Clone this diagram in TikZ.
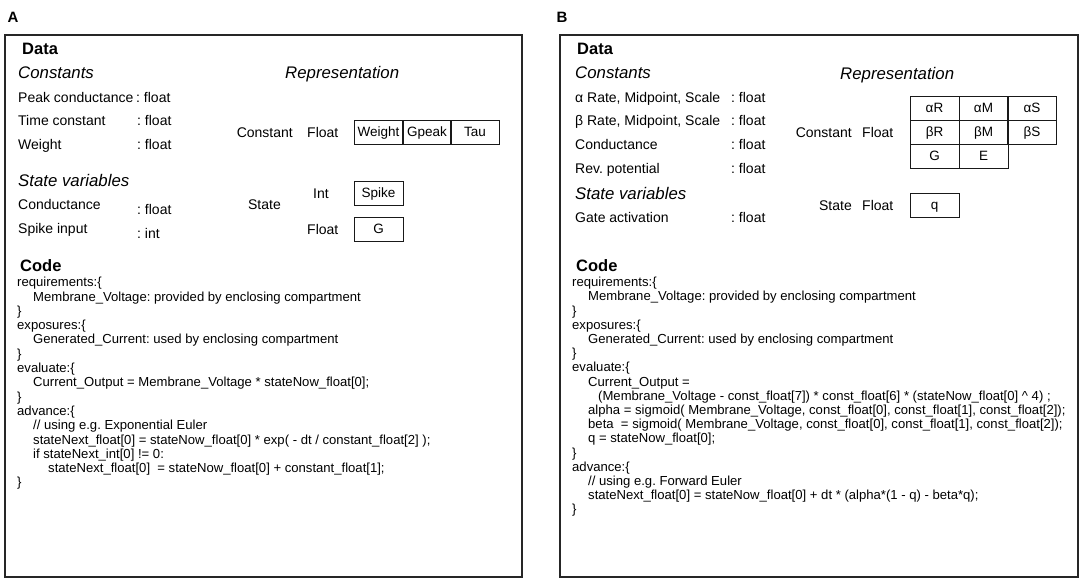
\documentclass[tikz,border=0pt]{standalone}
\usepackage{fontspec}
\setmainfont{Liberation Sans}
\frenchspacing
\begin{document}
\begin{tikzpicture}[x=1pt,y=-1pt,
  panel/.style={draw=black!85,line width=1.4pt},
  lab/.style={font=\fontsize{15}{17}\selectfont\bfseries,inner sep=0pt},
  head/.style={font=\fontsize{16.5}{18}\selectfont\bfseries,inner sep=0pt,anchor=west,text height=12pt,text depth=0pt},
  ital/.style={font=\fontsize{16.8}{18}\selectfont\itshape,inner sep=0pt,anchor=west,text height=12pt,text depth=0pt},
  txt/.style={font=\fontsize{14}{16}\selectfont\frenchspacing,inner sep=0pt,anchor=west,text height=10pt,text depth=0pt},
  code/.style={font=\fontsize{13.1}{15}\selectfont\frenchspacing,inner sep=0pt,anchor=west,text height=9.4pt,text depth=0pt},
  cell/.style={draw=black!90,line width=1pt,inner sep=0pt,minimum width=49pt,minimum height=24pt,text height=9.7pt,text depth=0pt,font=\fontsize{13.5}{15}\selectfont}
]
\useasboundingbox (0,0) rectangle (1084,584);

% ================= Panel A =================
\node[lab] (labA) at (13,17) {A};
\draw[panel] (5,35) rectangle (522,577);

\node[head] (dataA) at (22,48) {Data};
\node[ital] (constA) at (18,72) {Constants};
\node[txt] (pk) at (18,97) {Peak conductance};
\node[txt] (pkf) at (136,97) {: float};
\node[txt] (tc) at (18,120) {Time constant};
\node[txt] (tcf) at (137,120) {: float};
\node[txt] (wt) at (18,144) {Weight};
\node[txt] (wtf) at (137,144) {: float};
\node[ital] (svA) at (18,180) {State variables};
\node[txt] (cd) at (18,204) {Conductance};
\node[txt] (cdf) at (137,209) {: float};
\node[txt] (si) at (18,228) {Spike input};
\node[txt] (sif) at (137,233) {: int};

\node[ital] (repA) at (285,72) {Representation};
\node[txt,anchor=east] (conA) at (293,132) {Constant};
\node[txt] (flA1) at (307,132) {Float};
\node[txt,anchor=east] (stA) at (281,204) {State};
\node[txt] (intA) at (313,193) {Int};
\node[txt] (flA2) at (307,229) {Float};

\node[cell] (cW) at (378.5,132) {Weight};
\node[cell] (cGp) at (427,132) {Gpeak};
\node[cell] (cT) at (475,132) {Tau};
\node[cell] (cS) at (378.5,193) {Spike};
\node[cell] (cG) at (378.5,229) {G};

\node[head] (codeA) at (20,265) {Code};
\node[code] (a0) at (17,282) {requirements:\{};
\node[code] (a1) at (33,296.3) {Membrane\_Voltage: provided by enclosing compartment};
\node[code] (a2) at (17,310.6) {\}};
\node[code] (a3) at (17,324.9) {exposures:\{};
\node[code] (a4) at (33,339.2) {Generated\_Current: used by enclosing compartment};
\node[code] (a5) at (17,353.5) {\}};
\node[code] (a6) at (17,367.8) {evaluate:\{};
\node[code] (a7) at (33,382.1) {Current\_Output = Membrane\_Voltage * stateNow\_float[0];};
\node[code] (a8) at (17,396.4) {\}};
\node[code] (a9) at (17,410.7) {advance:\{};
\node[code] (a10) at (33,425) {// using e.g. Exponential Euler};
\node[code] (a11) at (33,439.3) {stateNext\_float[0] = stateNow\_float[0] * exp( - dt / constant\_float[2] );};
\node[code] (a12) at (33,453.6) {if stateNext\_int[0] != 0:};
\node[code] (a13) at (48,467.9) {stateNext\_float[0]\ \ = stateNow\_float[0] + constant\_float[1];};
\node[code] (a14) at (17,482.2) {\}};

% ================= Panel B =================
\node[lab] (labB) at (562,17) {B};
\draw[panel] (560,35) rectangle (1078,577);

\node[head] (dataB) at (577,48) {Data};
\node[ital] (constB) at (575,72) {Constants};
\node[txt] (ar) at (575,97) {α Rate, Midpoint, Scale};
\node[txt] (arf) at (731,97) {: float};
\node[txt] (br) at (575,120) {β Rate, Midpoint, Scale};
\node[txt] (brf) at (731,120) {: float};
\node[txt] (cdB) at (575,144) {Conductance};
\node[txt] (cdBf) at (731,144) {: float};
\node[txt] (rp) at (575,168) {Rev. potential};
\node[txt] (rpf) at (731,168) {: float};
\node[ital] (svB) at (575,193) {State variables};
\node[txt] (ga) at (575,217) {Gate activation};
\node[txt] (gaf) at (731,217) {: float};

\node[ital] (repB) at (840,73) {Representation};
\node[txt,anchor=east] (conB) at (852,132) {Constant};
\node[txt] (flB1) at (862,132) {Float};
\node[txt,anchor=east] (stB) at (852,205) {State};
\node[txt] (flB2) at (862,205) {Float};

\node[cell] (aR) at (934.5,108) {αR};
\node[cell] (aM) at (983.5,108) {αM};
\node[cell] (aS) at (1032,108) {αS};
\node[cell] (bR) at (934.5,132) {βR};
\node[cell] (bM) at (983.5,132) {βM};
\node[cell] (bS) at (1032,132) {βS};
\node[cell] (gG) at (934.5,156) {G};
\node[cell] (eE) at (983.5,156) {E};
\node[cell] (qq) at (934.5,205) {q};

\node[head] (codeB) at (576,265) {Code};
\node[code] (b0) at (572,282) {requirements:\{};
\node[code] (b1) at (588,296.2) {Membrane\_Voltage: provided by enclosing compartment};
\node[code] (b2) at (572,310.4) {\}};
\node[code] (b3) at (572,324.6) {exposures:\{};
\node[code] (b4) at (588,338.8) {Generated\_Current: used by enclosing compartment};
\node[code] (b5) at (572,353) {\}};
\node[code] (b6) at (572,367.2) {evaluate:\{};
\node[code] (b7) at (588,381.4) {Current\_Output =};
\node[code] (b8) at (598,395.6) {(Membrane\_Voltage - const\_float[7]) * const\_float[6] * (stateNow\_float[0] \textasciicircum{} 4) ;};
\node[code] (b9) at (588,409.8) {alpha = sigmoid( Membrane\_Voltage, const\_float[0], const\_float[1], const\_float[2]);};
\node[code] (b10) at (588,424) {beta\ \ = sigmoid( Membrane\_Voltage, const\_float[0], const\_float[1], const\_float[2]);};
\node[code] (b11) at (588,438.2) {q = stateNow\_float[0];};
\node[code] (b12) at (572,452.4) {\}};
\node[code] (b13) at (572,466.6) {advance:\{};
\node[code] (b14) at (588,480.8) {// using e.g. Forward Euler};
\node[code] (b15) at (588,495) {stateNext\_float[0] = stateNow\_float[0] + dt * (alpha*(1 - q) - beta*q);};
\node[code] (b16) at (572,509.2) {\}};
\end{tikzpicture}
\end{document}
